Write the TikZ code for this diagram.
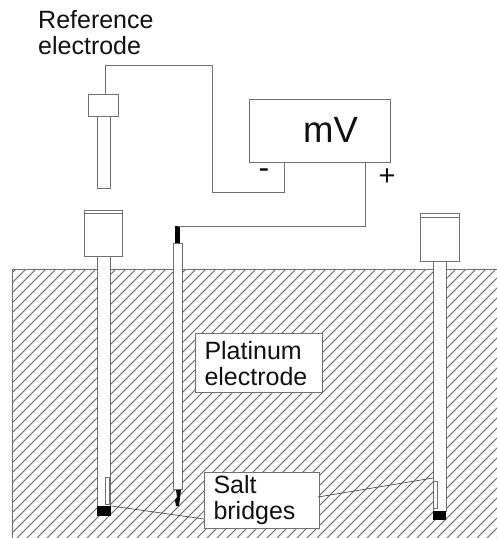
\documentclass[tikz,border=0pt]{standalone}
\usepackage{fontspec}
\setmainfont{Liberation Sans}
\definecolor{lne}{HTML}{707070}
\definecolor{txt}{HTML}{111111}
\tikzset{
  part/.style={draw=lne,line width=1pt,fill=white,inner sep=0pt,anchor=north west},
  solid part/.style={draw=none,fill=black,inner sep=0pt,anchor=north west},
  wire/.style={draw=lne,line width=1pt},
  leader/.style={draw=black!70,line width=0.7pt},
  hatch/.style={draw=black!60,line width=0.95pt},
  label/.style={text=txt,font=\fontsize{25}{26}\selectfont,align=left,inner sep=0pt},
  labelbox/.style={part,text=txt,font=\fontsize{25}{26}\selectfont,align=left,inner xsep=9pt,inner ysep=0pt},
  sign/.style={text=txt,inner sep=0pt}
}
\begin{document}
\begin{tikzpicture}[x=1pt,y=-1pt]
\useasboundingbox (0,0) rectangle (497,538);
\fill[white] (0,0) rectangle (497,538);
% ground hatching
\begin{scope}
\clip (12,269) rectangle (497,538);
\foreach \i in {0,...,80}{
  \draw[hatch] (-265+\i*10,540) -- ++(273,-273);
}
\end{scope}
\draw[wire] (12,538) -- (12,269) -- (497,269);

% reference electrode
\node[part,minimum width=13pt,minimum height=72pt] (refshaft) at (97,116) {};
\node[part,minimum width=30pt,minimum height=22pt] (refhead) at (88,94) {};
% meter
\node[part,minimum width=141pt,minimum height=63pt] (meter) at (249,99) {};
\node[text=txt,font=\fontsize{36.5}{38}\selectfont,inner sep=0pt,anchor=base west] (mv) at (303,142) {mV};
\node[sign,font=\fontsize{32}{34}\selectfont,anchor=center] (minus) at (264,174) {-};
\node[sign,font=\fontsize{29}{30}\selectfont,anchor=center] (plus) at (387,177) {+};
\coordinate (w1) at (105,65);
\coordinate (w2) at (212,65);
\coordinate (w3) at (212,192);
\coordinate (w4) at (284,192);
\coordinate (w5) at (284,162);
\draw[wire] (refhead.north -| w1) -- (w1) -- (w2) -- (w3) -- (w4) -- (w5);
\node[label,anchor=base west] (reflabel) at (38,54) {Reference\\electrode};

% left bottle
\node[part,minimum width=13pt,minimum height=250pt] (lshaft) at (97,256) {};
\node[part,minimum width=38pt,minimum height=46pt] (lhead) at (84,210) {};
\draw[wire] ([yshift=-3pt]lhead.north west) -- ([yshift=-3pt]lhead.north east);
\node[part,minimum width=4pt,minimum height=27pt] (lsalt) at (105,477) {};
\node[solid part,minimum width=14pt,minimum height=10pt] (ltip) at (97,506) {};

% platinum electrode
\node[part,minimum width=9pt,minimum height=246pt] (pshaft) at (173,243) {};
\node[solid part,minimum width=5pt,minimum height=17pt] (ptop) at (175,226) {};
\coordinate (p1) at (365,226);
\draw[wire] (ptop.north) -- (p1) -- (meter.south -| p1);
\fill[black] (176,490) -- (181,490) -- (180,498) -- (179,506) -- (176,506) -- (175,500) -- (177,497) -- cycle;

% right bottle
\node[part,minimum width=13pt,minimum height=250pt] (rshaft) at (433,261) {};
\node[part,minimum width=39pt,minimum height=48pt] (rhead) at (420,213) {};
\draw[wire] ([yshift=-4pt]rhead.north west) -- ([yshift=-4pt]rhead.north east);
\node[part,minimum width=4pt,minimum height=27pt] (rsalt) at (433,481) {};
\node[solid part,minimum width=13pt,minimum height=9pt] (rtip) at (433,511) {};

% label boxes
\node[labelbox,text width=109pt,minimum height=59pt] (plat) at (195,333) {\rule{0pt}{20pt}Platinum\\electrode};
\node[labelbox,text width=97pt,minimum height=56pt] (salt) at (204,472) {\rule{0pt}{17pt}Salt\\bridges};
\coordinate (s1) at (204,519);
\coordinate (s2) at (318,497);
\coordinate (s3) at (433,478);
\draw[leader] (ltip.north east) -- (s1);
\draw[leader] (s2) -- (s3);
\end{tikzpicture}
\end{document}
